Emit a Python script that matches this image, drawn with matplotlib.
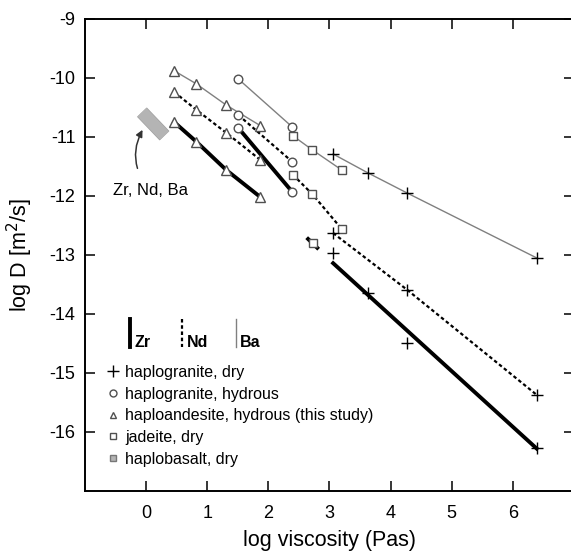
import matplotlib
matplotlib.use('Agg')
import matplotlib.pyplot as plt
from matplotlib.lines import Line2D
import matplotlib.patheffects as pe

plt.rcParams['font.family'] = ['Liberation Sans', 'DejaVu Sans']

# haploandesite, hydrous (triangles)
tri_x = [0.46, 0.82, 1.31, 1.87]
tri_ba = [-9.88, -10.10, -10.46, -10.81]
tri_nd = [-10.24, -10.54, -10.93, -11.39]
tri_zr = [-10.75, -11.08, -11.56, -12.02]

# haplogranite, hydrous (circles)
cir_x = [1.51, 2.39]
cir_ba = [-10.02, -10.83]
cir_nd = [-10.63, -11.42]
cir_zr = [-10.85, -11.93]

# jadeite, dry (squares)
sq_x = [2.40, 2.72, 3.20]
sq_ba = [-10.98, -11.22, -11.56]
sq_nd = [-11.64, -11.97, -12.56]
sq_zr_x = [2.65, 2.80]
sq_zr = [-12.73, -12.88]
sq_zr_pt = (2.73, -12.80)

# haplogranite, dry (plus)
pl_ba_x = [3.06, 3.63, 4.27, 6.39]
pl_ba = [-11.29, -11.61, -11.95, -13.05]
pl_nd_x = [3.06, 4.27, 6.39]
pl_nd = [-12.63, -13.59, -15.37]
pl_zr_x = [3.06, 3.63, 4.27, 6.39]
pl_zr = [-12.97, -13.64, -14.49, -16.27]
pl_zr_fit_x = [3.06, 6.39]
pl_zr_fit = [-13.14, -16.28]

# haplobasalt, dry (grey bar)
bas_x = [-0.07, 0.30]
bas_y = [-10.58, -10.98]

legend_labels = ['haplogranite, dry', 'haplogranite, hydrous',
                 'haploandesite, hydrous (this study)', 'jadeite, dry',
                 'haplobasalt, dry']

fig = plt.figure(figsize=(5.71, 5.56), dpi=100)
ax = fig.add_axes([0.149, 0.117, 0.856, 0.849])

ba_kw = dict(color='#808080', lw=1.0)
nd_kw = dict(color='black', lw=1.6, dashes=(1.6, 1.2))
zr_kw = dict(color='black', lw=2.8)
mk = dict(mfc='white', mec='#505050', mew=1.0, ls='none', zorder=5)

# lines
ax.plot(tri_x, tri_ba, **ba_kw)
ax.plot(tri_x, tri_nd, **nd_kw)
ax.plot(tri_x, tri_zr, **zr_kw)
ax.plot(cir_x, cir_ba, **ba_kw)
ax.plot(cir_x, cir_nd, **nd_kw)
ax.plot(cir_x, cir_zr, **zr_kw)
ax.plot(sq_x, sq_ba, **ba_kw)
ax.plot(sq_x, sq_nd, **nd_kw)
ax.plot(sq_zr_x, sq_zr, **zr_kw)
ax.plot(pl_ba_x, pl_ba, **ba_kw)
ax.plot(pl_nd_x, pl_nd, **nd_kw)
ax.plot(pl_zr_fit_x, pl_zr_fit, **zr_kw)

# markers
for ys in (tri_ba, tri_nd, tri_zr):
    ax.plot(tri_x, ys, marker='^', ms=6.5, **mk)
for ys in (cir_ba, cir_nd, cir_zr):
    ax.plot(cir_x, ys, marker='o', ms=6.2, **mk)
for ys in (sq_ba, sq_nd):
    ax.plot(sq_x, ys, marker='s', ms=5.8, **mk)
ax.plot([sq_zr_pt[0]], [sq_zr_pt[1]], marker='s', ms=5.8, **mk)
plus_kw = dict(marker='+', ms=8, mew=1.0, color='black', ls='none', zorder=5)
ax.plot(pl_ba_x, pl_ba, **plus_kw)
ax.plot(pl_nd_x, pl_nd, **plus_kw)
ax.plot(pl_zr_x, pl_zr, **plus_kw)

# haplobasalt bar
ax.plot(bas_x, bas_y, color='#b4b4b4', lw=8.8, solid_capstyle='butt',
        path_effects=[pe.Stroke(linewidth=9.8, foreground='#a0a0a0'), pe.Normal()])
ax.annotate('Zr, Nd, Ba', xy=(-0.06, -10.88), xytext=(0.07, -11.9),
            ha='center', va='center', fontsize=12,
            arrowprops=dict(arrowstyle='-|>', color='#333333', lw=1.1,
                            connectionstyle='arc3,rad=-0.35',
                            shrinkA=9, shrinkB=0, mutation_scale=10))

# Zr / Nd / Ba line key
key_y = [-14.08, -14.56]
ax.plot([-0.26, -0.26], key_y, **zr_kw)
ax.text(-0.19, key_y[1], 'Zr', fontsize=11.5, fontweight='bold', va='baseline')
ax.plot([0.59, 0.59], key_y, **nd_kw)
ax.text(0.66, key_y[1], 'Nd', fontsize=11.5, fontweight='bold', va='baseline')
ax.plot([1.47, 1.47], key_y, **ba_kw)
ax.text(1.54, key_y[1], 'Ba', fontsize=11.5, fontweight='bold', va='baseline')

# marker legend
handles = [
    Line2D([], [], marker='+', ms=8, mew=1.0, color='black', ls='none'),
    Line2D([], [], marker='o', ms=5, mfc='white', mec='#505050', ls='none'),
    Line2D([], [], marker='^', ms=5, mfc='white', mec='#505050', ls='none'),
    Line2D([], [], marker='s', ms=5, mfc='white', mec='#505050', ls='none'),
    Line2D([], [], marker='s', ms=5, mfc='#b4b4b4', mec='#777777', ls='none'),
]
ax.legend(handles, legend_labels, loc='upper left', bbox_to_anchor=(0.044, 0.267),
          frameon=False, fontsize=11.5, handlelength=0.8, handletextpad=0.35,
          labelspacing=0.42, borderaxespad=0, borderpad=0)

ax.set_xlim(-1, 7)
ax.set_ylim(-17, -9)
ax.set_xticks(range(0, 7))
ax.set_yticks(range(-16, -8))
ax.set_yticklabels([str(v) for v in range(-16, -8)])
ax.tick_params(direction='in', length=7, width=1.1, labelsize=13,
               top=True, right=True)
ax.tick_params(axis='x', pad=10)
ax.tick_params(axis='y', pad=7)
for s in ax.spines.values():
    s.set_linewidth(1.4)
ax.set_xlabel('log viscosity (Pas)', fontsize=15.5, labelpad=6)
ax.set_ylabel('log D [m$^2$/s]', fontsize=15.5, labelpad=10)

fig.savefig('out.png', dpi=100)
